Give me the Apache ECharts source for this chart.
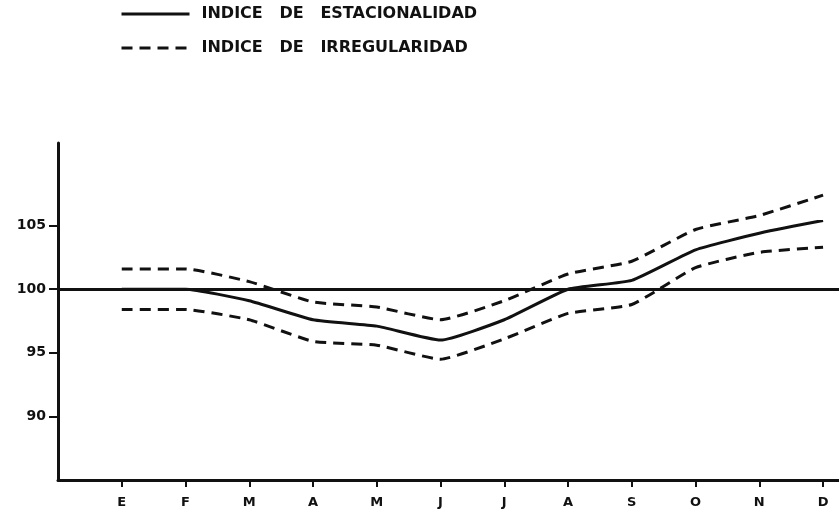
<!DOCTYPE html>
<html>
<head>
<meta charset="utf-8">
<script src="https://cdn.jsdelivr.net/npm/echarts@6/dist/echarts.min.js"></script>
<style>
  html, body { margin: 0; padding: 0; background: #fff; }
  #chart { width: 839px; height: 515px; }
</style>
</head>
<body>
<div id="chart"></div>
<script>
"use strict";

//
// Data
//
const months = ["E", "F", "M", "A", "M", "J", "J", "A", "S", "O", "N", "D"];
const month_pos = [1, 2, 3, 4, 5, 6, 7, 8, 9, 10, 11, 12];
const y_ticks = [90, 95, 100, 105];
const base_level = 100;

const estacionalidad = [100.0, 100.0, 99.1, 97.6, 97.1, 96.0, 97.6, 100.0, 100.7, 103.1, 104.4, 105.4];
const irreg_upper = [101.6, 101.6, 100.6, 99.0, 98.6, 97.6, 99.1, 101.2, 102.2, 104.7, 105.8, 107.4];
const irreg_lower = [98.4, 98.4, 97.6, 95.9, 95.6, 94.5, 96.1, 98.1, 98.8, 101.7, 102.9, 103.3];

const name_est = "INDICE   DE   ESTACIONALIDAD";
const name_irr = "INDICE   DE   IRREGULARIDAD";

//
// Helpers
//
function to_points(values) {
  return values.map((v, i) => [month_pos[i], v]);
}

const ink = "#111";
const font = "DejaVu Sans";

//
// Chart
//
const chart = echarts.init(document.getElementById("chart"));

chart.setOption({
  animation: false,
  legend: {
    orient: "vertical",
    left: 120,
    top: 6,
    padding: 0,
    itemWidth: 68,
    itemHeight: 18,
    itemGap: 18,
    itemStyle: { opacity: 0 },
    lineStyle: { width: 3 },
    data: [name_est, name_irr],
    textStyle: {
      color: ink,
      fontFamily: font,
      fontWeight: "bold",
      fontSize: 16,
      padding: [0, 0, 0, 7],
    },
  },
  grid: {
    left: 58,
    right: 0,
    top: 143,
    bottom: 35,
  },
  xAxis: {
    type: "value",
    min: 0,
    max: 12.25,
    interval: 1,
    splitLine: { show: false },
    axisLine: { lineStyle: { color: ink, width: 3 } },
    axisTick: {
      show: true,
      customValues: month_pos,
      length: 7,
      lineStyle: { color: ink, width: 2 },
    },
    axisLabel: {
      customValues: month_pos,
      margin: 16,
      color: ink,
      fontFamily: font,
      fontWeight: "bold",
      fontSize: 13,
      formatter: (v) => months[Math.round(v) - 1] || "",
    },
  },
  yAxis: {
    type: "value",
    min: 85,
    max: 111.5,
    interval: 5,
    splitLine: { show: false },
    axisLine: { show: true, lineStyle: { color: ink, width: 3 } },
    axisTick: {
      show: true,
      customValues: y_ticks,
      length: 9,
      lineStyle: { color: ink, width: 2 },
    },
    axisLabel: {
      customValues: y_ticks,
      margin: 12,
      color: ink,
      fontFamily: font,
      fontWeight: "bold",
      fontSize: 14,
    },
  },
  series: [
    {
      type: "line",
      name: name_est,
      data: to_points(estacionalidad),
      smooth: 0.15,
      symbol: "none",
      lineStyle: { color: ink, width: 3, type: "solid" },
      itemStyle: { color: ink },
      markLine: {
        silent: true,
        symbol: "none",
        label: { show: false },
        lineStyle: { color: ink, width: 3, type: "solid" },
        data: [{ yAxis: base_level }],
      },
    },
    {
      type: "line",
      name: name_irr,
      data: to_points(irreg_upper),
      smooth: 0.15,
      symbol: "none",
      lineStyle: { color: ink, width: 3, type: [11, 7] },
      itemStyle: { color: ink },
    },
    {
      type: "line",
      name: name_irr,
      data: to_points(irreg_lower),
      smooth: 0.15,
      symbol: "none",
      lineStyle: { color: ink, width: 3, type: [11, 7] },
      itemStyle: { color: ink },
    },
  ],
});
</script>
</body>
</html>
